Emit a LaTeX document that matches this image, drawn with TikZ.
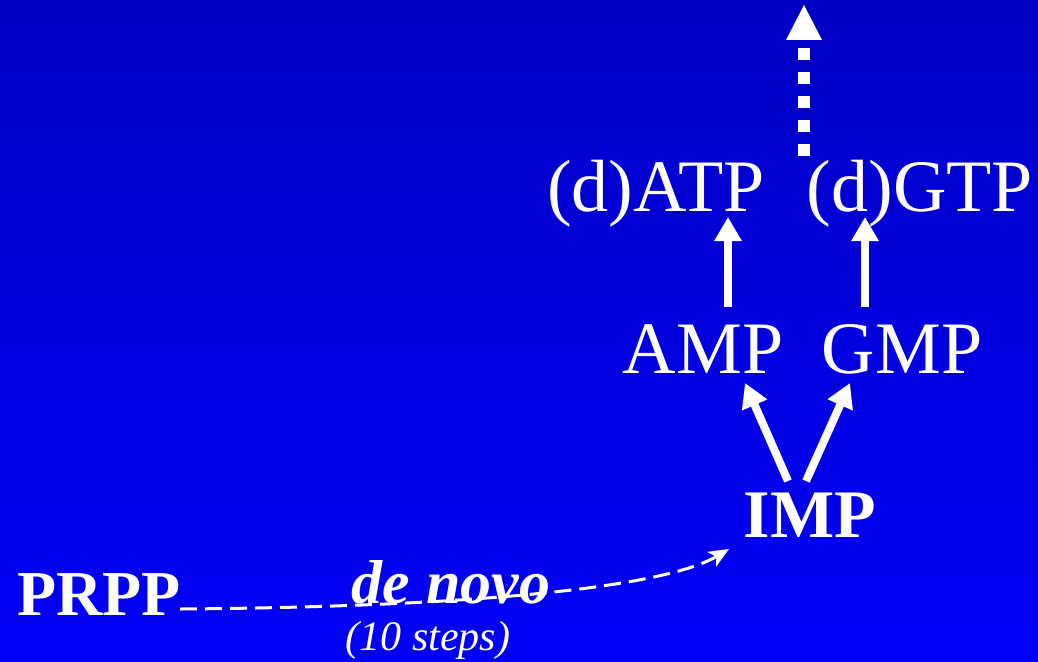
\documentclass[tikz,border=0pt]{standalone}
\usepackage{fontspec}
\setmainfont{Liberation Serif}
\usetikzlibrary{arrows.meta}
\tikzset{
  lbl/.style={text=white, inner sep=0pt, anchor=base},
  big/.style={lbl, font=\fontsize{74}{80}\selectfont},
  arr/.style={draw=white, line width=8pt, -{Triangle[length=24pt,width=26pt]}},
  curv/.style={draw=white, line width=3pt, dash pattern=on 17pt off 8pt, -{Stealth[length=20pt,width=17pt,inset=5pt]}}
}
\begin{document}
\begin{tikzpicture}[x=1pt,y=-1pt]
\shade[top color={rgb,255:red,0;green,0;blue,196}, bottom color={rgb,255:red,0;green,0;blue,248}] (0,0) rectangle (1038,661);
\useasboundingbox (0,0) rectangle (1038,661);

\node[big] (ATP) at (656,211) {(d)ATP};
\node[big] (GTP) at (920,211) {(d)GTP};
\node[big] (AMP) at (703,373) {AMP};
\node[big] (GMP) at (902,373) {GMP};
\node[lbl, font=\fontsize{68}{74}\selectfont\bfseries] (IMP) at (810,537) {IMP};
\node[lbl, font=\fontsize{64}{70}\selectfont\bfseries] (PRPP) at (99,615) {PRPP};
\node[lbl, font=\fontsize{62}{70}\selectfont\bfseries\itshape] (denovo) at (451,603) {de novo};
\node[lbl, font=\fontsize{42}{48}\selectfont\itshape] (steps) at (428,650) {(10 steps)};

\coordinate (a1) at (728,307); \coordinate (a2) at (728,217);
\coordinate (g1) at (865,307); \coordinate (g2) at (865,217);
\coordinate (i1) at (788,481); \coordinate (i2) at (745,383);
\coordinate (i3) at (806,481); \coordinate (i4) at (850,383);
\draw[arr] (a1) -- (a2);
\draw[arr] (g1) -- (g2);
\draw[arr] (i1) -- (i2);
\draw[arr] (i3) -- (i4);

\coordinate (d1) at (804,156); \coordinate (d2) at (804,48);
\draw[white, line width=12pt, dash pattern=on 12pt off 12pt] (d1) -- (d2);
\fill[white] (786,40) -- (822,40) -- (804,5) -- cycle;

\coordinate (c1) at (180,609); \coordinate (c2) at (729,549);
\draw[curv] (c1) .. controls (450,607) and (660,590) .. (c2);
\end{tikzpicture}
\end{document}
